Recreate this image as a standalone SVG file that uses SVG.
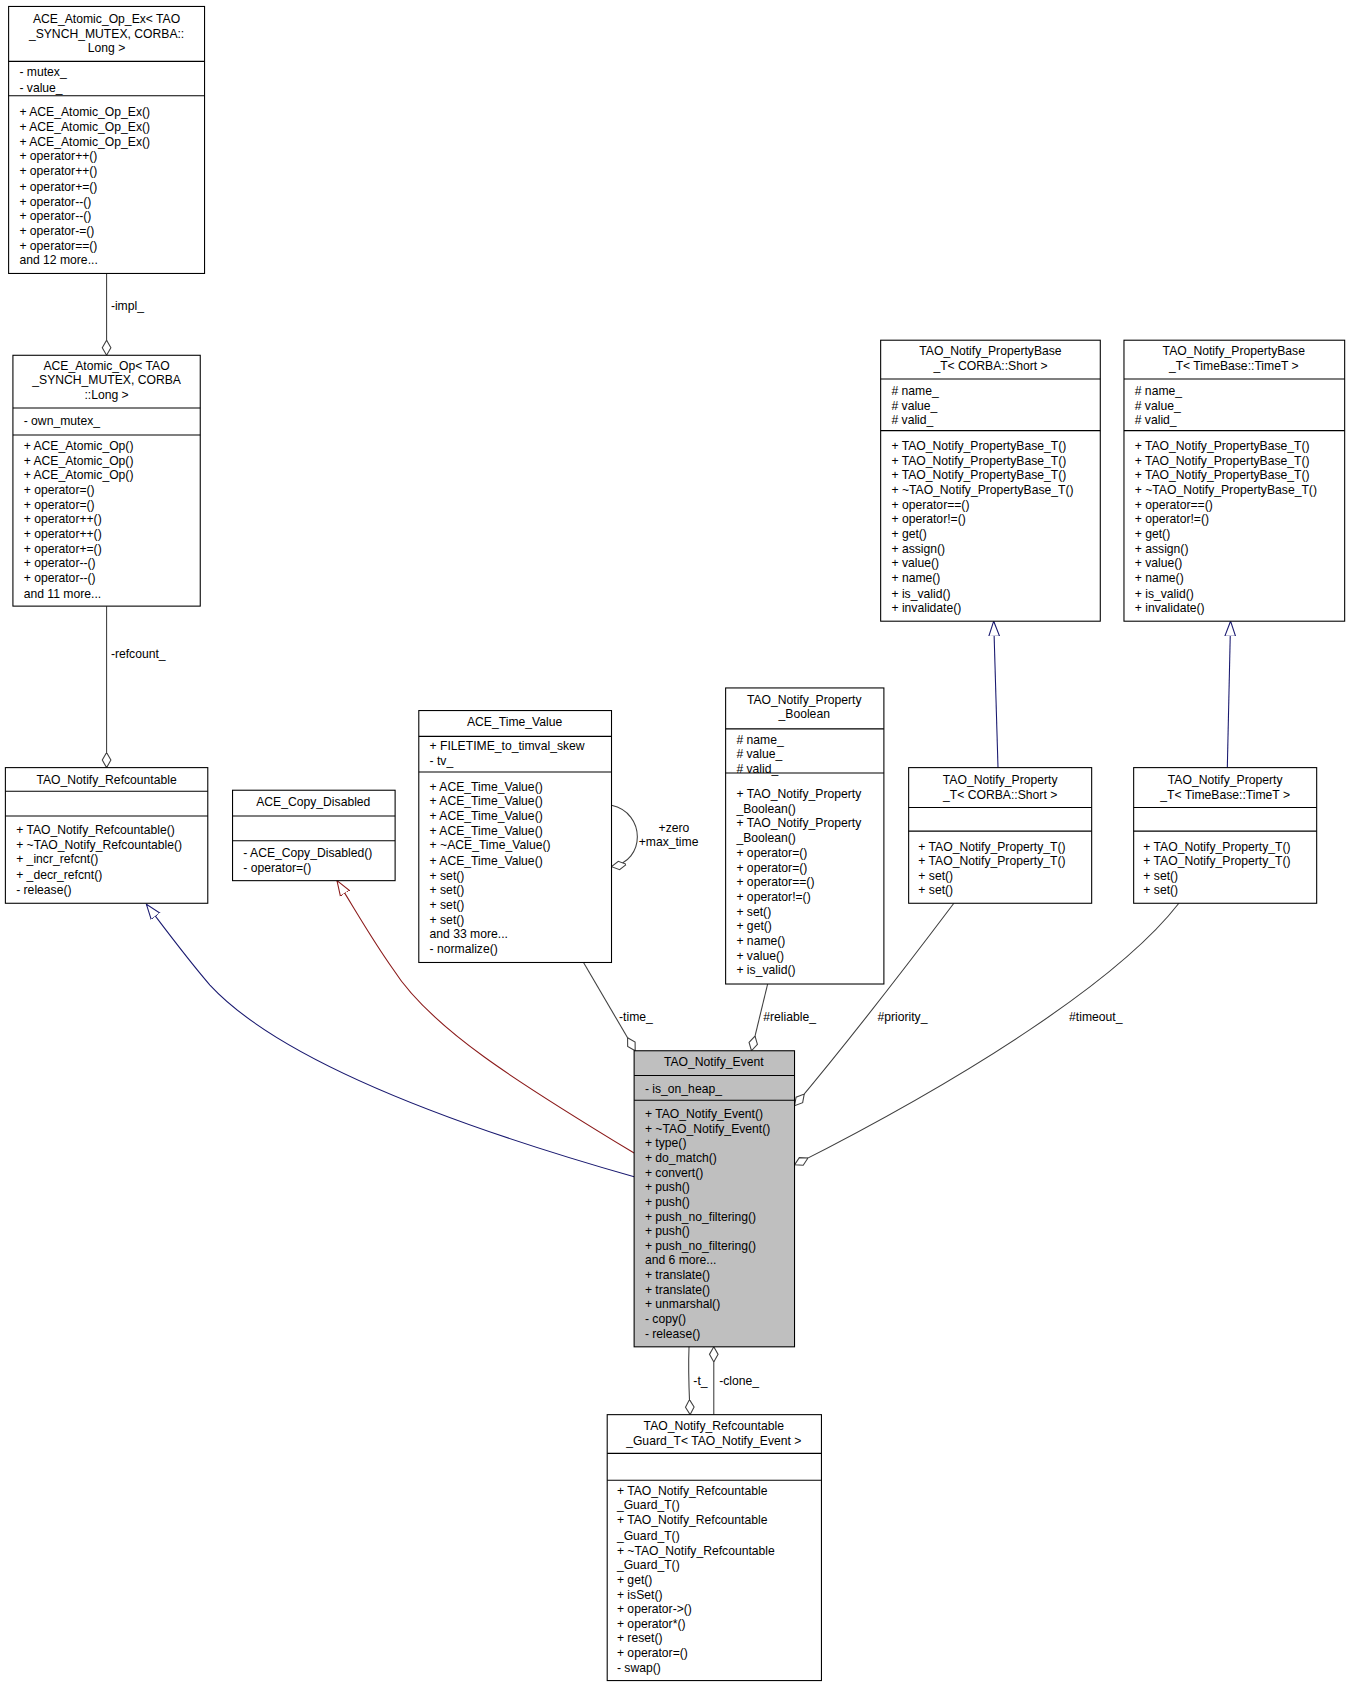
<svg xmlns="http://www.w3.org/2000/svg" width="1349" height="1685" viewBox="0 0 1349 1685">
<style>
text{font-family:"Liberation Sans",Arial,sans-serif;font-size:11.3px;fill:#000}
.c{text-anchor:middle}
.b{fill:#fff;stroke:#000;stroke-width:1}
.g{fill:#bfbfbf;stroke:#000;stroke-width:1}
.s{stroke:#000;stroke-width:1}
.e{fill:none;stroke:#404040;stroke-width:1}
.n{fill:none;stroke:#191970;stroke-width:1}
.r{fill:none;stroke:#8b1a1a;stroke-width:1}
</style>
<defs>
<marker id="dia" markerUnits="userSpaceOnUse" markerWidth="16" markerHeight="10" refX="14" refY="5" orient="auto" viewBox="0 0 16 10"><path d="M0,5 L7,1 L14,5 L7,9 z" fill="#fff" stroke="#404040"/></marker>
<marker id="trn" markerUnits="userSpaceOnUse" markerWidth="16" markerHeight="12" refX="14" refY="6" orient="auto" viewBox="0 0 16 12"><path d="M0,1 L14,6 L0,11 z" fill="#fff" stroke="#191970"/></marker>
<marker id="trr" markerUnits="userSpaceOnUse" markerWidth="16" markerHeight="12" refX="14" refY="6" orient="auto" viewBox="0 0 16 12"><path d="M0,1 L14,6 L0,11 z" fill="#fff" stroke="#8b1a1a"/></marker>
</defs>
<rect width="1349" height="1685" fill="#fff"/>
<g transform="scale(1.0766)">
<g id="connectors">
<path class="e" d="M99,254 L99,330" marker-end="url(#dia)"/>
<text x="103" y="288">-impl_</text>
<path class="e" d="M99,563 L99,713" marker-end="url(#dia)"/>
<text x="103" y="611">-refcount_</text>
<path class="n" d="M589,1093 C420,1045 260,985 195,915 C175,892 155,865 136,840" marker-end="url(#trn)"/>
<path class="r" d="M589,1071 C480,1005 400,955 365,900 C345,872 330,845 313,818" marker-end="url(#trr)"/>
<path class="n" d="M927,713 L923,577" marker-end="url(#trn)"/>
<path class="n" d="M1140,713 L1143,577" marker-end="url(#trn)"/>
<path class="e" d="M568,748 C600,755 600,800 568,805" marker-end="url(#dia)"/>
<text class="c" x="626" y="773">+zero</text>
<text class="c" x="621" y="786">+max_time</text>
<path class="e" d="M542,894 L590,976" marker-end="url(#dia)"/>
<text x="575" y="948">-time_</text>
<path class="e" d="M713,914 L698,976" marker-end="url(#dia)"/>
<text x="709" y="948">#reliable_</text>
<path class="e" d="M886,839 C840,900 790,965 738,1027" marker-end="url(#dia)"/>
<text x="815" y="948">#priority_</text>
<path class="e" d="M1095,839 C1040,910 900,1000 738,1082" marker-end="url(#dia)"/>
<text x="993" y="948">#timeout_</text>
<path class="e" d="M640,1251 C639,1275 640,1290 641,1314" marker-end="url(#dia)"/>
<text x="644" y="1286">-t_</text>
<path class="e" d="M663,1314 L663,1251" marker-end="url(#dia)"/>
<text x="668" y="1286">-clone_</text>
</g>
<g id="atomic_op_ex">
<rect class="b" x="8" y="6" width="182" height="248"/>
<line class="s" x1="8" y1="57" x2="190" y2="57"/><line class="s" x1="8" y1="89" x2="190" y2="89"/>
<text class="c" x="99" y="21">ACE_Atomic_Op_Ex&lt; TAO</text>
<text class="c" x="99" y="35">_SYNCH_MUTEX, CORBA::</text>
<text class="c" x="99" y="48">Long &gt;</text>
<text x="18" y="71">- mutex_</text><text x="18" y="85">- value_</text>
<text x="18" y="108">+ ACE_Atomic_Op_Ex()</text>
<text x="18" y="122">+ ACE_Atomic_Op_Ex()</text>
<text x="18" y="136">+ ACE_Atomic_Op_Ex()</text>
<text x="18" y="149">+ operator++()</text>
<text x="18" y="163">+ operator++()</text>
<text x="18" y="177">+ operator+=()</text>
<text x="18" y="191">+ operator--()</text>
<text x="18" y="204">+ operator--()</text>
<text x="18" y="218">+ operator-=()</text>
<text x="18" y="232">+ operator==()</text>
<text x="18" y="245">and 12 more...</text>
</g>
<g id="atomic_op">
<rect class="b" x="12" y="330" width="174" height="233"/>
<line class="s" x1="12" y1="379" x2="186" y2="379"/><line class="s" x1="12" y1="404" x2="186" y2="404"/>
<text class="c" x="99" y="344">ACE_Atomic_Op&lt; TAO</text>
<text class="c" x="99" y="357">_SYNCH_MUTEX, CORBA</text>
<text class="c" x="99" y="371">::Long &gt;</text>
<text x="22" y="395">- own_mutex_</text>
<text x="22" y="418">+ ACE_Atomic_Op()</text>
<text x="22" y="432">+ ACE_Atomic_Op()</text>
<text x="22" y="445">+ ACE_Atomic_Op()</text>
<text x="22" y="459">+ operator=()</text>
<text x="22" y="473">+ operator=()</text>
<text x="22" y="486">+ operator++()</text>
<text x="22" y="500">+ operator++()</text>
<text x="22" y="514">+ operator+=()</text>
<text x="22" y="527">+ operator--()</text>
<text x="22" y="541">+ operator--()</text>
<text x="22" y="555">and 11 more...</text>
</g>
<g id="refcountable">
<rect class="b" x="5" y="713" width="188" height="126"/>
<line class="s" x1="5" y1="735" x2="193" y2="735"/><line class="s" x1="5" y1="758" x2="193" y2="758"/>
<text class="c" x="99" y="728">TAO_Notify_Refcountable</text>
<text x="15" y="775">+ TAO_Notify_Refcountable()</text>
<text x="15" y="789">+ ~TAO_Notify_Refcountable()</text>
<text x="15" y="802">+ _incr_refcnt()</text>
<text x="15" y="816">+ _decr_refcnt()</text>
<text x="15" y="830">- release()</text>
</g>
<g id="copy_disabled">
<rect class="b" x="216" y="734" width="151" height="84"/>
<line class="s" x1="216" y1="758" x2="367" y2="758"/><line class="s" x1="216" y1="781" x2="367" y2="781"/>
<text class="c" x="291" y="749">ACE_Copy_Disabled</text>
<text x="226" y="796">- ACE_Copy_Disabled()</text>
<text x="226" y="810">- operator=()</text>
</g>
<g id="time_value">
<rect class="b" x="389" y="660" width="179" height="234"/>
<line class="s" x1="389" y1="684" x2="568" y2="684"/><line class="s" x1="389" y1="717" x2="568" y2="717"/>
<text class="c" x="478" y="674">ACE_Time_Value</text>
<text x="399" y="697">+ FILETIME_to_timval_skew</text>
<text x="399" y="711">- tv_</text>
<text x="399" y="735">+ ACE_Time_Value()</text>
<text x="399" y="748">+ ACE_Time_Value()</text>
<text x="399" y="762">+ ACE_Time_Value()</text>
<text x="399" y="776">+ ACE_Time_Value()</text>
<text x="399" y="789">+ ~ACE_Time_Value()</text>
<text x="399" y="803">+ ACE_Time_Value()</text>
<text x="399" y="817">+ set()</text>
<text x="399" y="830">+ set()</text>
<text x="399" y="844">+ set()</text>
<text x="399" y="858">+ set()</text>
<text x="399" y="871">and 33 more...</text>
<text x="399" y="885">- normalize()</text>
</g>
<g id="property_boolean">
<rect class="b" x="674" y="639" width="147" height="275"/>
<line class="s" x1="674" y1="677" x2="821" y2="677"/><line class="s" x1="674" y1="718" x2="821" y2="718"/>
<text class="c" x="747" y="654">TAO_Notify_Property</text>
<text class="c" x="747" y="667">_Boolean</text>
<text x="684" y="691"># name_</text><text x="684" y="704"># value_</text><text x="684" y="718"># valid_</text>
<text x="684" y="741">+ TAO_Notify_Property</text>
<text x="684" y="755">_Boolean()</text>
<text x="684" y="768">+ TAO_Notify_Property</text>
<text x="684" y="782">_Boolean()</text>
<text x="684" y="796">+ operator=()</text>
<text x="684" y="810">+ operator=()</text>
<text x="684" y="823">+ operator==()</text>
<text x="684" y="837">+ operator!=()</text>
<text x="684" y="851">+ set()</text>
<text x="684" y="864">+ get()</text>
<text x="684" y="878">+ name()</text>
<text x="684" y="892">+ value()</text>
<text x="684" y="905">+ is_valid()</text>
</g>
<g id="propertybase_short">
<rect class="b" x="818" y="316" width="204" height="261"/>
<line class="s" x1="818" y1="352" x2="1022" y2="352"/><line class="s" x1="818" y1="400" x2="1022" y2="400"/>
<text class="c" x="920" y="330">TAO_Notify_PropertyBase</text>
<text class="c" x="920" y="344">_T&lt; CORBA::Short &gt;</text>
<text x="828" y="367"># name_</text><text x="828" y="381"># value_</text><text x="828" y="394"># valid_</text>
<text x="828" y="418">+ TAO_Notify_PropertyBase_T()</text>
<text x="828" y="432">+ TAO_Notify_PropertyBase_T()</text>
<text x="828" y="445">+ TAO_Notify_PropertyBase_T()</text>
<text x="828" y="459">+ ~TAO_Notify_PropertyBase_T()</text>
<text x="828" y="473">+ operator==()</text>
<text x="828" y="486">+ operator!=()</text>
<text x="828" y="500">+ get()</text>
<text x="828" y="514">+ assign()</text>
<text x="828" y="527">+ value()</text>
<text x="828" y="541">+ name()</text>
<text x="828" y="555">+ is_valid()</text>
<text x="828" y="568">+ invalidate()</text>
</g>
<g id="propertybase_timet">
<rect class="b" x="1044" y="316" width="205" height="261"/>
<line class="s" x1="1044" y1="352" x2="1249" y2="352"/><line class="s" x1="1044" y1="400" x2="1249" y2="400"/>
<text class="c" x="1146" y="330">TAO_Notify_PropertyBase</text>
<text class="c" x="1146" y="344">_T&lt; TimeBase::TimeT &gt;</text>
<text x="1054" y="367"># name_</text><text x="1054" y="381"># value_</text><text x="1054" y="394"># valid_</text>
<text x="1054" y="418">+ TAO_Notify_PropertyBase_T()</text>
<text x="1054" y="432">+ TAO_Notify_PropertyBase_T()</text>
<text x="1054" y="445">+ TAO_Notify_PropertyBase_T()</text>
<text x="1054" y="459">+ ~TAO_Notify_PropertyBase_T()</text>
<text x="1054" y="473">+ operator==()</text>
<text x="1054" y="486">+ operator!=()</text>
<text x="1054" y="500">+ get()</text>
<text x="1054" y="514">+ assign()</text>
<text x="1054" y="527">+ value()</text>
<text x="1054" y="541">+ name()</text>
<text x="1054" y="555">+ is_valid()</text>
<text x="1054" y="568">+ invalidate()</text>
</g>
<g id="property_short">
<rect class="b" x="844" y="713" width="170" height="126"/>
<line class="s" x1="844" y1="750" x2="1014" y2="750"/><line class="s" x1="844" y1="772" x2="1014" y2="772"/>
<text class="c" x="929" y="728">TAO_Notify_Property</text>
<text class="c" x="929" y="742">_T&lt; CORBA::Short &gt;</text>
<text x="853" y="790">+ TAO_Notify_Property_T()</text>
<text x="853" y="803">+ TAO_Notify_Property_T()</text>
<text x="853" y="817">+ set()</text>
<text x="853" y="830">+ set()</text>
</g>
<g id="property_timet">
<rect class="b" x="1053" y="713" width="170" height="126"/>
<line class="s" x1="1053" y1="750" x2="1223" y2="750"/><line class="s" x1="1053" y1="772" x2="1223" y2="772"/>
<text class="c" x="1138" y="728">TAO_Notify_Property</text>
<text class="c" x="1138" y="742">_T&lt; TimeBase::TimeT &gt;</text>
<text x="1062" y="790">+ TAO_Notify_Property_T()</text>
<text x="1062" y="803">+ TAO_Notify_Property_T()</text>
<text x="1062" y="817">+ set()</text>
<text x="1062" y="830">+ set()</text>
</g>
<g id="notify_event">
<rect class="g" x="589" y="976" width="149" height="275"/>
<line class="s" x1="589" y1="999" x2="738" y2="999"/><line class="s" x1="589" y1="1022" x2="738" y2="1022"/>
<text class="c" x="663" y="990">TAO_Notify_Event</text>
<text x="599" y="1015">- is_on_heap_</text>
<text x="599" y="1038">+ TAO_Notify_Event()</text>
<text x="599" y="1052">+ ~TAO_Notify_Event()</text>
<text x="599" y="1065">+ type()</text>
<text x="599" y="1079">+ do_match()</text>
<text x="599" y="1093">+ convert()</text>
<text x="599" y="1106">+ push()</text>
<text x="599" y="1120">+ push()</text>
<text x="599" y="1134">+ push_no_filtering()</text>
<text x="599" y="1147">+ push()</text>
<text x="599" y="1161">+ push_no_filtering()</text>
<text x="599" y="1174">and 6 more...</text>
<text x="599" y="1188">+ translate()</text>
<text x="599" y="1202">+ translate()</text>
<text x="599" y="1215">+ unmarshal()</text>
<text x="599" y="1229">- copy()</text>
<text x="599" y="1243">- release()</text>
</g>
<g id="refcountable_guard">
<rect class="b" x="564" y="1314" width="199" height="247"/>
<line class="s" x1="564" y1="1350" x2="763" y2="1350"/><line class="s" x1="564" y1="1375" x2="763" y2="1375"/>
<text class="c" x="663" y="1328">TAO_Notify_Refcountable</text>
<text class="c" x="663" y="1342">_Guard_T&lt; TAO_Notify_Event &gt;</text>
<text x="573" y="1389">+ TAO_Notify_Refcountable</text>
<text x="573" y="1402">_Guard_T()</text>
<text x="573" y="1416">+ TAO_Notify_Refcountable</text>
<text x="573" y="1430">_Guard_T()</text>
<text x="573" y="1444">+ ~TAO_Notify_Refcountable</text>
<text x="573" y="1457">_Guard_T()</text>
<text x="573" y="1471">+ get()</text>
<text x="573" y="1485">+ isSet()</text>
<text x="573" y="1498">+ operator-&gt;()</text>
<text x="573" y="1512">+ operator*()</text>
<text x="573" y="1525">+ reset()</text>
<text x="573" y="1539">+ operator=()</text>
<text x="573" y="1553">- swap()</text>
</g>
</g>
</svg>
